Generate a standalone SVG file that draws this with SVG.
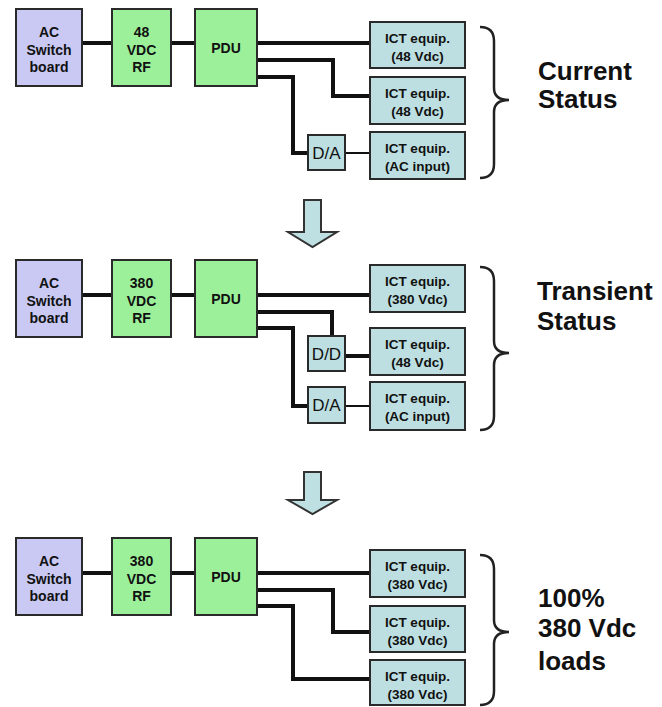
<svg xmlns="http://www.w3.org/2000/svg" width="662" height="707" viewBox="0 0 662 707">
<style>
.box{stroke:#2a2a2a;stroke-width:2}
.ac{fill:#c9c9f4}
.rf{fill:#9cf09a}
.ict{fill:#bddfe1}
.t{font-family:"Liberation Sans",Arial,sans-serif;font-weight:bold;font-size:13.5px;fill:#111;text-anchor:middle}
.tb{font-family:"Liberation Sans",Arial,sans-serif;font-weight:bold;font-size:14px;fill:#111;text-anchor:middle}
.da{font-family:"Liberation Sans",Arial,sans-serif;font-size:17px;fill:#111;text-anchor:middle}
.big{font-family:"Liberation Sans",Arial,sans-serif;font-weight:bold;font-size:26px;fill:#111}
.w{fill:none;stroke:#111;stroke-width:4}
.n{fill:none;stroke:#111;stroke-width:2}
.brace{fill:none;stroke:#222;stroke-width:2.5}
.arrow{fill:#bfe0e3;stroke:#333;stroke-width:2}
</style>

<!-- connectors -->
<g id="connectors">
  <!-- section 1 -->
  <path class="w" d="M82,43H112"/>
  <path class="w" d="M171,43H195"/>
  <path class="w" d="M257,43H370"/>
  <path class="w" d="M257,60H333V96H370"/>
  <path class="w" d="M257,77H293V153H308"/>
  <path class="n" d="M345,153H370"/>
  <!-- section 2 -->
  <path class="w" d="M82,295H112"/>
  <path class="w" d="M171,295H195"/>
  <path class="w" d="M257,295H370"/>
  <path class="w" d="M257,312H332V336"/>
  <path class="w" d="M345,356H370"/>
  <path class="w" d="M257,328H293V406H308"/>
  <path class="n" d="M345,406H370"/>
  <!-- section 3 -->
  <path class="w" d="M82,573H112"/>
  <path class="w" d="M171,573H195"/>
  <path class="w" d="M257,573H370"/>
  <path class="w" d="M257,590H333V632H370"/>
  <path class="w" d="M257,606H293V679H370"/>
</g>

<!-- section 1 -->
<g id="ac1"><rect class="box ac" x="16" y="9" width="66" height="77"/>
<text class="tb" x="49" y="37">AC</text><text class="tb" x="49" y="55">Switch</text><text class="tb" x="49" y="72">board</text></g>
<g id="rf1"><rect class="box rf" x="112" y="9" width="59" height="77"/>
<text class="tb" x="141.5" y="37">48</text><text class="tb" x="141.5" y="55">VDC</text><text class="tb" x="141.5" y="72">RF</text></g>
<g id="pdu1"><rect class="box rf" x="195" y="9" width="62" height="77"/>
<text class="tb" x="226" y="53">PDU</text></g>
<g id="ict1a"><rect class="box ict" x="370" y="22" width="95" height="46"/>
<text class="t" x="417.5" y="43">ICT equip.</text><text class="t" x="417.5" y="61">(48 Vdc)</text></g>
<g id="ict1b"><rect class="box ict" x="370" y="77" width="95" height="47"/>
<text class="t" x="417.5" y="98">ICT equip.</text><text class="t" x="417.5" y="116">(48 Vdc)</text></g>
<g id="da1"><rect class="box ict" x="308" y="135" width="37" height="35"/>
<text class="da" x="326.5" y="159">D/A</text></g>
<g id="ict1c"><rect class="box ict" x="370" y="132" width="95" height="47"/>
<text class="t" x="417.5" y="153">ICT equip.</text><text class="t" x="417.5" y="171">(AC input)</text></g>
<g id="brace1"><path class="brace" d="M480,27Q494,27 494,41V88Q494,100 509,100Q494,100 494,112V164Q494,178 480,178"/></g>
<g id="label1"><text class="big" x="538" y="80">Current</text><text class="big" x="538" y="108">Status</text></g>

<g id="arrow1"><path class="arrow" d="M304,200H321V232H337L312.5,247L288,232H304Z"/></g>

<!-- section 2 -->
<g id="ac2"><rect class="box ac" x="16" y="260" width="66" height="77"/>
<text class="tb" x="49" y="288">AC</text><text class="tb" x="49" y="306">Switch</text><text class="tb" x="49" y="323">board</text></g>
<g id="rf2"><rect class="box rf" x="112" y="260" width="59" height="77"/>
<text class="tb" x="141.5" y="288">380</text><text class="tb" x="141.5" y="306">VDC</text><text class="tb" x="141.5" y="323">RF</text></g>
<g id="pdu2"><rect class="box rf" x="195" y="260" width="62" height="77"/>
<text class="tb" x="226" y="304">PDU</text></g>
<g id="ict2a"><rect class="box ict" x="370" y="265" width="95" height="47"/>
<text class="t" x="417.5" y="286">ICT equip.</text><text class="t" x="417.5" y="304">(380 Vdc)</text></g>
<g id="dd2"><rect class="box ict" x="308" y="336" width="37" height="35"/>
<text class="da" x="326.5" y="360">D/D</text></g>
<g id="ict2b"><rect class="box ict" x="370" y="328" width="95" height="47"/>
<text class="t" x="417.5" y="349">ICT equip.</text><text class="t" x="417.5" y="367">(48 Vdc)</text></g>
<g id="da2"><rect class="box ict" x="308" y="387" width="37" height="36"/>
<text class="da" x="326.5" y="411">D/A</text></g>
<g id="ict2c"><rect class="box ict" x="370" y="382" width="95" height="48"/>
<text class="t" x="417.5" y="403">ICT equip.</text><text class="t" x="417.5" y="421">(AC input)</text></g>
<g id="brace2"><path class="brace" d="M480,267Q494,267 494,281V341Q494,353 509,353Q494,353 494,365V416Q494,430 480,430"/></g>
<g id="label2"><text class="big" x="537" y="300">Transient</text><text class="big" x="537" y="330">Status</text></g>

<g id="arrow2"><path class="arrow" d="M304,472H321V500H337L312.5,514L288,500H304Z"/></g>

<!-- section 3 -->
<g id="ac3"><rect class="box ac" x="16" y="538" width="66" height="77"/>
<text class="tb" x="49" y="566">AC</text><text class="tb" x="49" y="584">Switch</text><text class="tb" x="49" y="601">board</text></g>
<g id="rf3"><rect class="box rf" x="112" y="538" width="59" height="77"/>
<text class="tb" x="141.5" y="566">380</text><text class="tb" x="141.5" y="584">VDC</text><text class="tb" x="141.5" y="601">RF</text></g>
<g id="pdu3"><rect class="box rf" x="195" y="538" width="62" height="77"/>
<text class="tb" x="226" y="582">PDU</text></g>
<g id="ict3a"><rect class="box ict" x="370" y="550" width="95" height="47"/>
<text class="t" x="417.5" y="571">ICT equip.</text><text class="t" x="417.5" y="589">(380 Vdc)</text></g>
<g id="ict3b"><rect class="box ict" x="370" y="606" width="95" height="46"/>
<text class="t" x="417.5" y="627">ICT equip.</text><text class="t" x="417.5" y="645">(380 Vdc)</text></g>
<g id="ict3c"><rect class="box ict" x="370" y="660" width="95" height="45"/>
<text class="t" x="417.5" y="681">ICT equip.</text><text class="t" x="417.5" y="699">(380 Vdc)</text></g>
<g id="brace3"><path class="brace" d="M480,555Q494,555 494,569V620Q494,632 509,632Q494,632 494,644V691Q494,705 480,705"/></g>
<g id="label3"><text class="big" x="538" y="607">100%</text><text class="big" x="538" y="637">380 Vdc</text><text class="big" x="538" y="670">loads</text></g>
</svg>
